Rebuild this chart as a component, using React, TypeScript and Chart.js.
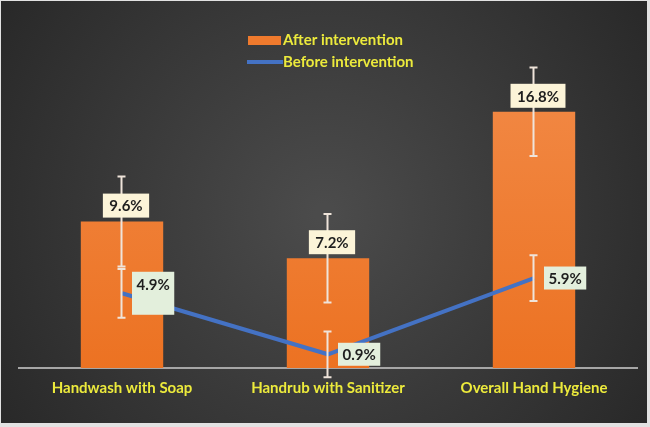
import React, { useEffect, useRef } from "react";
import { Chart, registerables } from "chart.js";

Chart.register(...registerables);

// ---- data ----
const categories = ["Handwash with Soap", "Handrub with Sanitizer", "Overall Hand Hygiene"];
const seriesLabels = ["After intervention", "Before intervention"];
const afterValues = [9.6, 7.2, 16.8];
const afterErrors = [2.95, 2.9, 2.9];
const beforeValues = [4.9, 0.9, 5.9];
const beforeErrors = [1.6, 1.5, 1.5];
const yMin = 0;
const yMax = 20;

// ---- styles ----
const ORANGE = "#ef7a2d";
const BLUE = "#4472c4";
const YELLOW = "#ecea3c";
const FONT = "Lato, 'Open Sans', sans-serif";

const bgPlugin = {
  id: "bgPlugin",
  beforeDraw(chart: any) {
    const { ctx, width, height } = chart;
    ctx.save();
    ctx.fillStyle = "#e2e2e2";
    ctx.fillRect(0, 0, width, height);
    const g = ctx.createRadialGradient(width / 2, height * 0.5, 10, width / 2, height * 0.5, width * 0.62);
    g.addColorStop(0, "#4b4b4b");
    g.addColorStop(1, "#272727");
    ctx.fillStyle = g;
    ctx.fillRect(1, 1, width - 4, height - 5);
    ctx.restore();
  },
};

const errorsByDataset = [afterErrors, beforeErrors];

const overlayPlugin = {
  id: "overlayPlugin",
  afterDatasetsDraw(chart: any) {
    const { ctx } = chart;
    const ys = chart.scales.y;
    ctx.save();
    // error bars
    chart.data.datasets.forEach((ds: any, di: number) => {
      const meta = chart.getDatasetMeta(di);
      const errs = errorsByDataset[di];
      meta.data.forEach((el: any, i: number) => {
        const v = ds.data[i];
        const x = Math.round(el.x) + 0.5 - 1;
        const yt = ys.getPixelForValue(v + errs[i]);
        const yb = ys.getPixelForValue(v - errs[i]);
        ctx.strokeStyle = "#efe4da";
        ctx.lineWidth = 2;
        ctx.beginPath();
        ctx.moveTo(x, yt);
        ctx.lineTo(x, yb);
        ctx.moveTo(x - 4, yt);
        ctx.lineTo(x + 4, yt);
        ctx.moveTo(x - 4, yb);
        ctx.lineTo(x + 4, yb);
        ctx.stroke();
      });
    });
    // data labels
    ctx.font = `bold 15px ${FONT}`;
    ctx.textAlign = "center";
    ctx.textBaseline = "middle";
    const afterMeta = chart.getDatasetMeta(0);
    afterMeta.data.forEach((el: any, i: number) => {
      const txt = afterValues[i].toFixed(1) + "%";
      const w = ctx.measureText(txt).width + 13;
      const h = 24;
      const cx = el.x + 4;
      const bottom = el.y - 4;
      ctx.fillStyle = "#fcf4d8";
      ctx.fillRect(cx - w / 2, bottom - h, w, h);
      ctx.fillStyle = "#1e1e1e";
      ctx.fillText(txt, cx, bottom - h / 2 + 1);
    });
    const beforeMeta = chart.getDatasetMeta(1);
    beforeMeta.data.forEach((el: any, i: number) => {
      const txt = beforeValues[i].toFixed(1) + "%";
      const w = ctx.measureText(txt).width + 9;
      const h = i === 0 ? 43 : 23;
      const left = el.x + 10;
      const top = el.y - h / 2;
      ctx.fillStyle = "#e3efdc";
      ctx.fillRect(left, top, w, h);
      ctx.fillStyle = "#1e1e1e";
      ctx.fillText(txt, left + w / 2, i === 0 ? top + 13 : top + h / 2 + 1);
    });
    ctx.restore();
  },
};

const legendPlugin = {
  id: "customLegend",
  afterDraw(chart: any) {
    const { ctx } = chart;
    ctx.save();
    ctx.font = `bold 15px ${FONT}`;
    ctx.textAlign = "left";
    ctx.textBaseline = "middle";
    const ds = chart.data.datasets;
    // bar item
    ctx.fillStyle = ORANGE;
    ctx.fillRect(248, 36, 33, 9);
    ctx.fillStyle = YELLOW;
    ctx.fillText(ds[0].label, 283, 40);
    // line item
    ctx.strokeStyle = ds[1].borderColor;
    ctx.lineWidth = 4;
    ctx.beginPath();
    ctx.moveTo(247, 62);
    ctx.lineTo(283, 62);
    ctx.stroke();
    ctx.fillStyle = YELLOW;
    ctx.fillText(ds[1].label, 283, 62);
    ctx.restore();
  },
};

export default function App() {
  const ref = useRef<HTMLCanvasElement | null>(null);

  useEffect(() => {
    if (!ref.current) return;
    const chart = new Chart(ref.current, {
      type: "bar",
      data: {
        labels: categories,
        datasets: [
          {
            type: "bar",
            label: seriesLabels[0],
            data: afterValues,
            backgroundColor: (c: any) => {
              const ca = c.chart.chartArea;
              if (!ca) return ORANGE;
              const g = c.chart.ctx.createLinearGradient(0, ca.top, 0, ca.bottom);
              g.addColorStop(0, "#f28a47");
              g.addColorStop(1, "#ec7222");
              return g;
            },
            borderWidth: 0,
            barPercentage: 0.8,
            categoryPercentage: 0.5,
            order: 2,
          },
          {
            type: "line",
            label: seriesLabels[1],
            data: beforeValues,
            borderColor: BLUE,
            borderWidth: 4,
            pointRadius: 0,
            fill: false,
            tension: 0,
            order: 1,
          },
        ] as any,
      },
      options: {
        responsive: false,
        animation: false,
        devicePixelRatio: 1,
        layout: { padding: { top: 63, left: 19, right: 13, bottom: 0 } },
        plugins: {
          legend: { display: false },
          tooltip: { enabled: false },
        },
        scales: {
          x: {
            offset: true,
            grid: { display: false, drawTicks: false },
            border: { display: true, color: "#a6a6a6", width: 2 },
            ticks: {
              color: YELLOW,
              font: { family: FONT, size: 15, weight: "bold" },
              padding: 11,
              maxRotation: 0,
            },
            afterFit: (scale: any) => {
              scale.height = 59;
            },
          },
          y: {
            display: false,
            min: yMin,
            max: yMax,
          },
        },
      } as any,
      plugins: [bgPlugin, overlayPlugin, legendPlugin],
    });
    return () => chart.destroy();
  }, []);

  return (
    <div style={{ position: "fixed", left: 0, top: 0, width: 650, height: 427 }}>
      <canvas ref={ref} width={650} height={427} style={{ display: "block" }} />
    </div>
  );
}
